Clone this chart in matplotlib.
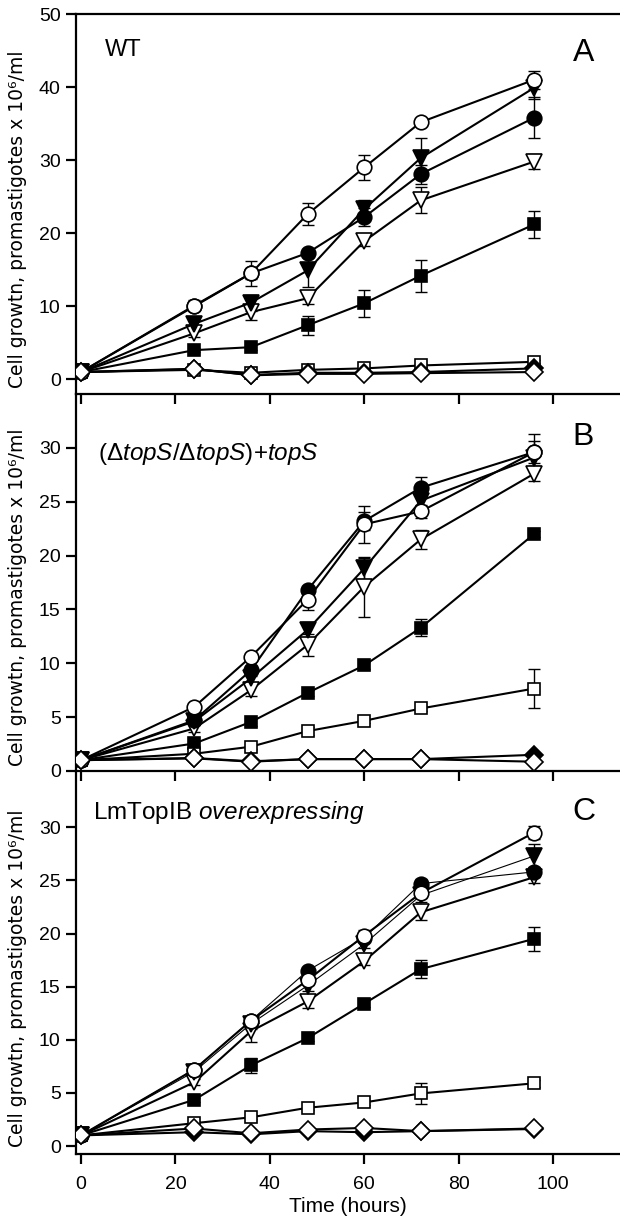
import numpy as np
import matplotlib
matplotlib.use("Agg")
import matplotlib.pyplot as plt

plt.rcParams['font.family'] = ['Liberation Sans', 'DejaVu Sans']
plt.rcParams['mathtext.fontset'] = 'custom'
plt.rcParams['mathtext.rm'] = 'Liberation Sans'
plt.rcParams['mathtext.it'] = 'Liberation Sans:italic'

# time points (hours)
hours = [0, 24, 36, 48, 60, 72, 96]

# panel A - WT
a_open_circle = [1.0, 10.1, 14.5, 22.6, 29.0, 35.2, 41.0]
a_open_circle_err = [0, 0.8, 1.7, 1.5, 1.7, 0, 1.2]
a_filled_circle = [1.0, 10.0, 14.5, 17.3, 22.2, 28.1, 35.8]
a_filled_circle_err = [0, 0.5, 0.8, 0.6, 1.2, 1.3, 2.8]
a_filled_tri = [1.0, 7.6, 10.5, 14.9, 23.3, 30.3, 39.9]
a_filled_tri_err = [0, 0.5, 1.1, 2.2, 1.3, 2.8, 1.5]
a_open_tri = [1.0, 6.3, 9.2, 11.1, 18.9, 24.5, 29.8]
a_open_tri_err = [0, 0.5, 1.1, 0.8, 0.6, 1.8, 1.0]
a_filled_sq = [1.0, 4.0, 4.4, 7.4, 10.4, 14.2, 21.2]
a_filled_sq_err = [0, 0.3, 0.4, 1.3, 1.8, 2.2, 1.9]
a_open_sq = [1.0, 1.3, 0.9, 1.3, 1.5, 1.9, 2.4]
a_open_sq_err = [0, 0, 0, 0.2, 0.2, 0.2, 0.2]
a_filled_dia = [1.0, 1.4, 0.6, 0.9, 0.9, 1.0, 1.5]
a_open_dia = [1.0, 1.45, 0.55, 0.75, 0.75, 0.85, 1.0]

# panel B - (dtopS/dtopS)+topS
b_open_circle = [1.0, 5.95, 10.6, 15.9, 22.9, 24.1, 29.6]
b_open_circle_err = [0, 0.3, 0.3, 1.0, 1.7, 0.6, 1.7]
b_filled_circle = [1.0, 4.7, 9.35, 16.8, 23.2, 26.3, 29.6]
b_filled_circle_err = [0, 0.3, 0.5, 0.4, 0.8, 1.0, 1.0]
b_filled_tri = [1.0, 4.6, 8.6, 13.1, 18.8, 25.1, 29.1]
b_filled_tri_err = [0, 0.3, 0.5, 0.7, 1.0, 0.5, 0.8]
b_open_tri = [1.0, 3.95, 7.5, 11.7, 17.1, 21.5, 27.6]
b_open_tri_err = [0, 0.3, 0.5, 1.0, 2.8, 0.9, 0.7]
b_filled_sq = [1.0, 2.55, 4.55, 7.25, 9.8, 13.3, 22.0]
b_filled_sq_err = [0, 0.2, 0.4, 0.3, 0.3, 0.8, 0.3]
b_open_sq = [1.0, 1.6, 2.25, 3.7, 4.65, 5.8, 7.65]
b_open_sq_err = [0, 0.1, 0.2, 0.4, 0.2, 0.2, 1.8]
b_filled_dia = [1.0, 1.2, 0.9, 1.1, 1.1, 1.1, 1.5]
b_open_dia = [1.0, 1.17, 0.86, 1.1, 1.1, 1.1, 0.86]

# panel C - LmTopIB overexpressing
c_open_circle = [1.0, 7.2, 11.8, 15.6, 19.8, 23.8, 29.5]
c_open_circle_err = [0, 0.3, 0.4, 0.4, 0.5, 0.5, 0.6]
c_filled_circle = [1.0, 7.2, 11.8, 16.5, 19.6, 24.7, 25.8]
c_filled_circle_err = [0, 0.3, 0.4, 0.3, 0.4, 0.4, 0.5]
c_filled_tri = [1.0, 7.0, 11.5, 15.1, 19.0, 23.6, 27.3]
c_filled_tri_err = [0, 0.3, 0.5, 0.5, 0.4, 0.6, 1.1]
c_open_tri = [1.0, 6.0, 10.8, 13.6, 17.4, 22.0, 25.3]
c_open_tri_err = [0, 0.3, 1.0, 0.6, 0.4, 0.7, 0.5]
c_filled_sq = [1.0, 4.35, 7.6, 10.15, 13.4, 16.65, 19.5]
c_filled_sq_err = [0, 0.2, 0.7, 0.3, 0.3, 0.85, 1.1]
c_open_sq = [1.0, 2.15, 2.7, 3.6, 4.1, 4.95, 5.9]
c_open_sq_err = [0, 0.2, 0.2, 0.2, 0.2, 0.95, 0.3]
c_filled_dia = [1.0, 1.3, 1.1, 1.4, 1.3, 1.4, 1.6]
c_open_dia = [1.0, 1.65, 1.2, 1.55, 1.7, 1.4, 1.65]

x_ticks = [0, 20, 40, 60, 80, 100]
ylabel = "Cell growtn, promastigotes x 10\u2076/ml"

# marker style per series: (marker, face, size)
styles = {
    "filled_sq": ("s", "k", 9.3),
    "open_sq": ("s", "w", 9.3),
    "filled_dia": ("D", "k", 9),
    "open_tri": ("v", "w", 11),
    "filled_tri": ("v", "k", 11),
    "filled_circle": ("o", "k", 10.5),
    "open_circle": ("o", "w", 10.5),
    "open_dia": ("D", "w", 9),
}
draw_order = ["filled_sq", "open_sq", "filled_dia", "open_tri", "filled_tri",
              "filled_circle", "open_circle", "open_dia"]


def draw_panel(ax, series, errors, thin=()):
    for z, name in enumerate(draw_order):
        y = series[name]
        marker, face, size = styles[name]
        lw = 0.8 if name in thin else 1.5
        err = errors.get(name)
        if err is not None:
            idx = [i for i, e in enumerate(err) if e > 0]
            ax.errorbar([hours[i] for i in idx], [y[i] for i in idx],
                        yerr=[err[i] for i in idx], fmt='none', ecolor='k',
                        elinewidth=1.0, capsize=4.3, capthick=1.0, zorder=2 + z * 0.1)
        ax.plot(hours, y, '-', color='k', lw=lw, marker=marker, mfc=face, mec='k',
                ms=size, mew=1.2, zorder=3 + z * 0.1)


fig = plt.figure(figsize=(6.2, 12.3), dpi=100)
left = 0.1226
width = 1.0 - left
ax_a = fig.add_axes([left, 0.6797, width, 0.3089])
ax_b = fig.add_axes([left, 0.3732, width, 0.3065])
ax_c = fig.add_axes([left, 0.0618, width, 0.3114])

draw_panel(ax_a,
           {"open_circle": a_open_circle, "filled_circle": a_filled_circle,
            "filled_tri": a_filled_tri, "open_tri": a_open_tri,
            "filled_sq": a_filled_sq, "open_sq": a_open_sq,
            "filled_dia": a_filled_dia, "open_dia": a_open_dia},
           {"open_circle": a_open_circle_err, "filled_circle": a_filled_circle_err,
            "filled_tri": a_filled_tri_err, "open_tri": a_open_tri_err,
            "filled_sq": a_filled_sq_err, "open_sq": a_open_sq_err})
draw_panel(ax_b,
           {"open_circle": b_open_circle, "filled_circle": b_filled_circle,
            "filled_tri": b_filled_tri, "open_tri": b_open_tri,
            "filled_sq": b_filled_sq, "open_sq": b_open_sq,
            "filled_dia": b_filled_dia, "open_dia": b_open_dia},
           {"open_circle": b_open_circle_err, "filled_circle": b_filled_circle_err,
            "filled_tri": b_filled_tri_err, "open_tri": b_open_tri_err,
            "filled_sq": b_filled_sq_err, "open_sq": b_open_sq_err})
draw_panel(ax_c,
           {"open_circle": c_open_circle, "filled_circle": c_filled_circle,
            "filled_tri": c_filled_tri, "open_tri": c_open_tri,
            "filled_sq": c_filled_sq, "open_sq": c_open_sq,
            "filled_dia": c_filled_dia, "open_dia": c_open_dia},
           {"open_circle": c_open_circle_err, "filled_circle": c_filled_circle_err,
            "filled_tri": c_filled_tri_err, "open_tri": c_open_tri_err,
            "filled_sq": c_filled_sq_err, "open_sq": c_open_sq_err},
           thin=("filled_circle", "filled_tri"))

ax_a.set_ylim(-2, 50)
ax_a.set_yticks([0, 10, 20, 30, 40, 50])
ax_b.set_ylim(0, 35)
ax_b.set_yticks([0, 5, 10, 15, 20, 25, 30])
ax_c.set_ylim(-0.75, 35.3)
ax_c.set_yticks([0, 5, 10, 15, 20, 25, 30])

for ax in (ax_a, ax_b, ax_c):
    ax.set_xlim(-1.06, 114.2)
    ax.set_xticks(x_ticks)
    ax.spines['right'].set_visible(False)
    ax.spines['top'].set_visible(ax is ax_a)
    for s in ('left', 'bottom', 'top'):
        ax.spines[s].set_linewidth(1.6)
    ax.tick_params(axis='x', direction='out', length=7.5, width=1.6, labelsize=14, pad=8)
    ax.tick_params(axis='y', direction='out', length=7, width=1.6, labelsize=14, pad=4)
    ax.set_ylabel(ylabel, family='DejaVu Sans', fontsize=13.5)
    ax.yaxis.set_label_coords(-0.09, 0.46)
    ax.patch.set_alpha(0)

ax_a.tick_params(axis='x', labelbottom=False)
ax_b.tick_params(axis='x', labelbottom=False)
ax_c.set_xlabel("Time (hours)", fontsize=15, labelpad=3)

# annotation texts
ax_a.text(5.0, 45.1, "WT", fontsize=17, va='center', ha='left')
ax_a.text(104.2, 44.6, "A", fontsize=23, va='center', ha='left')
ax_b.text(3.6, 29.4, r"($\mathit{\Delta topS/\Delta topS}$)+$\mathit{topS}$",
          fontsize=17.5, va='center', ha='left')
ax_b.text(104.2, 31.0, "B", fontsize=23, va='center', ha='left')
ax_c.text(2.5, 31.4, r"LmTopIB $\mathit{overexpressing}$", fontsize=17.5, va='center', ha='left')
ax_c.text(104.2, 31.4, "C", fontsize=23, va='center', ha='left')

fig.savefig("out.png", dpi=100)
